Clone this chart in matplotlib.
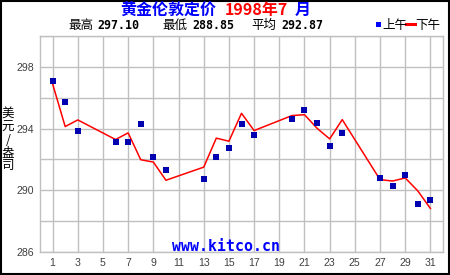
import matplotlib
matplotlib.use("Agg")
import matplotlib.pyplot as plt
from matplotlib.patches import Rectangle
from matplotlib.lines import Line2D

plt.rcParams['font.family'] = ['Noto Sans CJK SC', 'DejaVu Sans']

# Data
days = [1, 2, 3, 6, 7, 8, 9, 10, 13, 14, 15, 16, 17, 20, 21, 22, 23, 24, 27, 28, 29, 30, 31]
am = [297.08, 295.72, 293.85, 293.14, 293.10, 294.30, 292.17, 291.34, 290.70, 292.17,
      292.75, 294.30, 293.59, 294.63, 295.20, 294.37, 292.88, 293.72, 290.77, 290.30,
      291.01, 289.14, 289.40]
pm = [296.90, 294.13, 294.56, 293.29, 293.72, 291.98, 291.83, 290.65, 291.50, 293.38,
      293.18, 294.99, 293.87, 294.84, 294.90, 294.02, 293.33, 294.58, 290.69, 290.60,
      290.80, 289.96, 288.82]
x_ticks = list(range(1, 32, 2))
y_ticks = [286, 290, 294, 298]
stats_labels = ['最高', '最低', '平均']
stats_values = ['297.10', '288.85', '292.87']

W, H = 450, 275
fig = plt.figure(figsize=(W / 100, H / 100), dpi=100)
fig.patch.set_facecolor('white')

def fx(px):
    return px / W

def fy(py):
    return 1 - py / H

ax = fig.add_axes([fx(40), fy(252), fx(443) - fx(40), fy(36) - fy(252)])
ax.set_xlim(0, 32)
ax.set_ylim(286, 300)
ax.set_xticks(range(1, 32, 2))
ax.set_yticks(range(286, 301, 2))
ax.grid(True, color='#c0c0c0', lw=1.0)
ax.set_axisbelow(True)
for s in ax.spines.values():
    s.set_color('#c0c0c0')
    s.set_linewidth(1.0)
ax.tick_params(length=0, colors='#404040', labelsize=7.6, pad=4.5)
ax.set_xticklabels([str(d) for d in x_ticks])
ax.set_yticklabels([str(v) if v in y_ticks else '' for v in range(286, 301, 2)])
for lab in ax.get_xticklabels() + ax.get_yticklabels():
    lab.set_family(['Liberation Sans'])
    lab.set_color('#404040')

ax.plot(days, pm, color='#ff0000', lw=1.1, zorder=3)
ax.plot(days, am, linestyle='none', marker='s', markersize=4.3, color='#0000b0',
        markeredgewidth=0, zorder=4)

# Title pieces
ty = fy(9.8)
fig.text(fx(120), ty, '黄金伦敦定价', color='#0000ff', fontsize=11.5, fontweight='bold', va='center', ha='left')
fig.text(fx(225), ty, '1998年7', color='#ff0000', fontsize=11.5, fontweight='bold', va='center', ha='left')
fig.text(fx(295), ty, '月', color='#0000ff', fontsize=11.5, fontweight='bold', va='center', ha='left')

# stats line
sy = fy(25.5)
lab_x = [68, 162, 251]
val_x = [97, 192, 281]
for lx, vx, l, v in zip(lab_x, val_x, stats_labels, stats_values):
    fig.text(fx(lx), sy, l, color='black', fontsize=9, va='center', ha='left')
    fig.text(fx(vx), sy, v, color='black', fontsize=8.4, fontweight='bold',
             family=['DejaVu Sans Mono'], va='center', ha='left')

# legend
fig.add_artist(Rectangle((fx(376), fy(26.5)), fx(5), 5 / H, transform=fig.transFigure,
                         color='#0000ff', lw=0))
fig.text(fx(382), sy, '上午', color='black', fontsize=9, va='center', ha='left')
fig.add_artist(Line2D([fx(406), fx(415)], [fy(24), fy(24)], transform=fig.transFigure,
                      color='#ff0000', lw=2.2))
fig.text(fx(415), sy, '下午', color='black', fontsize=9, va='center', ha='left')

# y label stacked
for ch, py in zip('美元/盎司', [113, 127, 141, 153, 165]):
    fig.text(fx(8), fy(py), ch, color='black', fontsize=9, va='center', ha='center')

# watermark
fig.text(fx(226), fy(246.5), 'www.kitco.cn', color='#0000ff', fontsize=10.7,
         fontweight='bold', family=['DejaVu Sans Mono'], va='center', ha='center')

# frame
fig.add_artist(Rectangle((0.5 / W, 1.5 / H), (W - 2) / W, (H - 2.5) / H,
                         transform=fig.transFigure, fill=False, edgecolor='black', lw=1.5))

fig.savefig('out.png', dpi=100)
